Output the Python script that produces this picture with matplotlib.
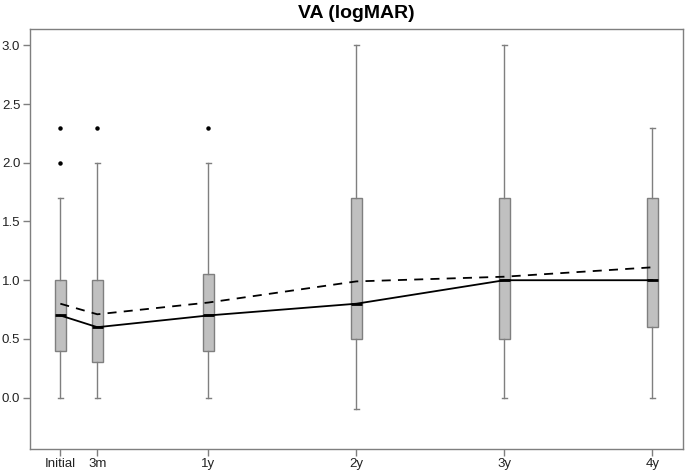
import matplotlib
matplotlib.use("Agg")
import matplotlib.pyplot as plt

# Data
labels = ["Initial", "3m", "1y", "2y", "3y", "4y"]
positions = [0, 0.25, 1, 2, 3, 4]
whisk_lo = [0.0, 0.0, 0.0, -0.1, 0.0, 0.0]
q1 = [0.4, 0.3, 0.4, 0.5, 0.5, 0.6]
median = [0.7, 0.6, 0.7, 0.8, 1.0, 1.0]
q3 = [1.0, 1.0, 1.05, 1.7, 1.7, 1.7]
whisk_hi = [1.7, 2.0, 2.0, 3.0, 3.0, 2.3]
outliers = [[2.0, 2.3], [2.3], [2.3], [], [], []]
mean = [0.8, 0.71, 0.81, 0.99, 1.03, 1.11]

plt.rcParams['font.family'] = ['Liberation Sans', 'DejaVu Sans']

fig = plt.figure(figsize=(6.85, 4.73), dpi=100)
ax = fig.add_axes([30/685, 24/473, 653/685, 420/473])

stats = []
for i in range(len(labels)):
    stats.append(dict(med=median[i], q1=q1[i], q3=q3[i],
                      whislo=whisk_lo[i], whishi=whisk_hi[i],
                      fliers=outliers[i], label=labels[i]))

gray = "#7f7f7f"
ax.bxp(stats, positions=positions, widths=0.07, capwidths=0.035,
       patch_artist=True, showfliers=True,
       boxprops=dict(facecolor="#c0c0c0", edgecolor=gray, linewidth=1.0),
       whiskerprops=dict(color=gray, linewidth=1.0),
       capprops=dict(color=gray, linewidth=1.0),
       medianprops=dict(color="black", linewidth=2.0),
       flierprops=dict(marker="o", markersize=2.2, markerfacecolor="black",
                       markeredgecolor="black", linestyle="none"))

ax.plot(positions, median, color="black", linewidth=1.3, zorder=5)
ax.plot(positions, mean, color="black", linewidth=1.3, linestyle=(0, (5, 4)), zorder=5)

ax.set_xlim(-0.205, 4.207)
ax.set_ylim(-0.437, 3.139)
ax.set_xticks(positions)
ax.set_xticklabels(labels)
ax.set_yticks([0.0, 0.5, 1.0, 1.5, 2.0, 2.5, 3.0])
ax.set_yticklabels(["0.0", "0.5", "1.0", "1.5", "2.0", "2.5", "3.0"])
ax.tick_params(axis="both", direction="out", length=5, width=1.0, color=gray,
               labelsize=9.5, labelcolor="#222222")
ax.tick_params(axis="x", pad=1.5)
ax.tick_params(axis="y", pad=2)
for s in ax.spines.values():
    s.set_color(gray)
    s.set_linewidth(1.0)

fig.text((30 + 683) / 2 / 685, 1 - 13/473, "VA (logMAR)",
         ha="center", va="center", fontsize=14, fontweight="bold")

fig.savefig("out.png", dpi=100)
